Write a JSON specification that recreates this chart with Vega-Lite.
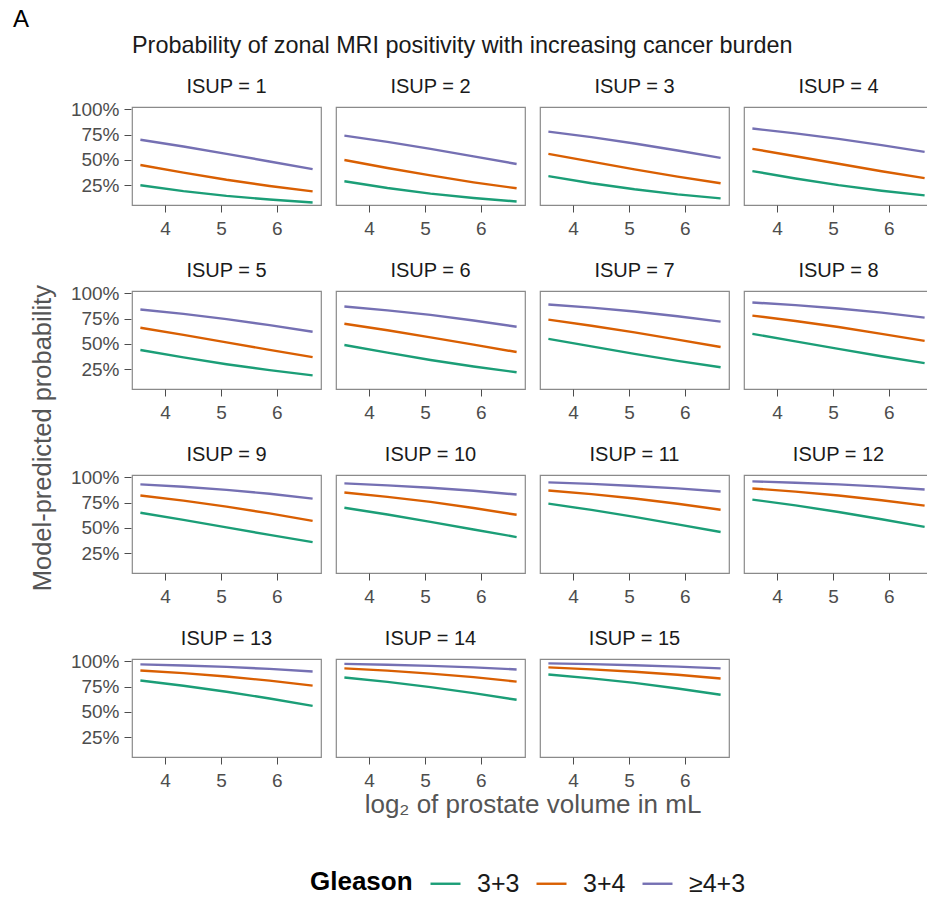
{
"$schema": "https://vega.github.io/schema/vega-lite/v6.json",
"padding": {"left": 12, "top": 8, "right": 0, "bottom": 0},
"background": "white",
"config": {
  "font": "Liberation Sans",
  "view": {"stroke": "#8a8a8a", "strokeWidth": 1.2},
  "axis": {"grid": false, "domain": false, "tickColor": "#4d4d4d", "tickSize": 7, "labelColor": "#4d4d4d", "labelFontSize": 19},
  "axisX": {"labelPadding": 7},
  "axisY": {"labelPadding": 5},
  "concat": {"spacing": 0}
},
"title": {"text": "A", "anchor": "start", "frame": "bounds", "dx": -18, "fontSize": 24, "fontWeight": "normal", "color": "#000", "offset": 2},
"data": {"values": [
{"i":1,"g":"3+3","x":3.56,"p":0.25},{"i":1,"g":"3+3","x":4.33,"p":0.192},{"i":1,"g":"3+3","x":5.10,"p":0.145},{"i":1,"g":"3+3","x":5.87,"p":0.109},{"i":1,"g":"3+3","x":6.64,"p":0.08},
{"i":1,"g":"3+4","x":3.56,"p":0.45},{"i":1,"g":"3+4","x":4.33,"p":0.375},{"i":1,"g":"3+4","x":5.10,"p":0.304},{"i":1,"g":"3+4","x":5.87,"p":0.243},{"i":1,"g":"3+4","x":6.64,"p":0.19},
{"i":1,"g":"≥4+3","x":3.56,"p":0.70},{"i":1,"g":"≥4+3","x":4.33,"p":0.633},{"i":1,"g":"≥4+3","x":5.10,"p":0.560},{"i":1,"g":"≥4+3","x":5.87,"p":0.485},{"i":1,"g":"≥4+3","x":6.64,"p":0.41},
{"i":2,"g":"3+3","x":3.56,"p":0.29},{"i":2,"g":"3+3","x":4.33,"p":0.223},{"i":2,"g":"3+3","x":5.10,"p":0.167},{"i":2,"g":"3+3","x":5.87,"p":0.124},{"i":2,"g":"3+3","x":6.64,"p":0.09},
{"i":2,"g":"3+4","x":3.56,"p":0.50},{"i":2,"g":"3+4","x":4.33,"p":0.421},{"i":2,"g":"3+4","x":5.10,"p":0.347},{"i":2,"g":"3+4","x":5.87,"p":0.279},{"i":2,"g":"3+4","x":6.64,"p":0.22},
{"i":2,"g":"≥4+3","x":3.56,"p":0.74},{"i":2,"g":"≥4+3","x":4.33,"p":0.678},{"i":2,"g":"≥4+3","x":5.10,"p":0.609},{"i":2,"g":"≥4+3","x":5.87,"p":0.535},{"i":2,"g":"≥4+3","x":6.64,"p":0.46},
{"i":3,"g":"3+3","x":3.56,"p":0.34},{"i":3,"g":"3+3","x":4.33,"p":0.27},{"i":3,"g":"3+3","x":5.10,"p":0.210},{"i":3,"g":"3+3","x":5.87,"p":0.160},{"i":3,"g":"3+3","x":6.64,"p":0.12},
{"i":3,"g":"3+4","x":3.56,"p":0.56},{"i":3,"g":"3+4","x":4.33,"p":0.483},{"i":3,"g":"3+4","x":5.10,"p":0.407},{"i":3,"g":"3+4","x":5.87,"p":0.335},{"i":3,"g":"3+4","x":6.64,"p":0.27},
{"i":3,"g":"≥4+3","x":3.56,"p":0.78},{"i":3,"g":"≥4+3","x":4.33,"p":0.725},{"i":3,"g":"≥4+3","x":5.10,"p":0.662},{"i":3,"g":"≥4+3","x":5.87,"p":0.593},{"i":3,"g":"≥4+3","x":6.64,"p":0.52},
{"i":4,"g":"3+3","x":3.56,"p":0.39},{"i":4,"g":"3+3","x":4.33,"p":0.317},{"i":4,"g":"3+3","x":5.10,"p":0.251},{"i":4,"g":"3+3","x":5.87,"p":0.196},{"i":4,"g":"3+3","x":6.64,"p":0.15},
{"i":4,"g":"3+4","x":3.56,"p":0.61},{"i":4,"g":"3+4","x":4.33,"p":0.537},{"i":4,"g":"3+4","x":5.10,"p":0.462},{"i":4,"g":"3+4","x":5.87,"p":0.388},{"i":4,"g":"3+4","x":6.64,"p":0.32},
{"i":4,"g":"≥4+3","x":3.56,"p":0.81},{"i":4,"g":"≥4+3","x":4.33,"p":0.763},{"i":4,"g":"≥4+3","x":5.10,"p":0.708},{"i":4,"g":"≥4+3","x":5.87,"p":0.647},{"i":4,"g":"≥4+3","x":6.64,"p":0.58},
{"i":5,"g":"3+3","x":3.56,"p":0.44},{"i":5,"g":"3+3","x":4.33,"p":0.367},{"i":5,"g":"3+3","x":5.10,"p":0.300},{"i":5,"g":"3+3","x":5.87,"p":0.241},{"i":5,"g":"3+3","x":6.64,"p":0.19},
{"i":5,"g":"3+4","x":3.56,"p":0.66},{"i":5,"g":"3+4","x":4.33,"p":0.590},{"i":5,"g":"3+4","x":5.10,"p":0.516},{"i":5,"g":"3+4","x":5.87,"p":0.442},{"i":5,"g":"3+4","x":6.64,"p":0.37},
{"i":5,"g":"≥4+3","x":3.56,"p":0.84},{"i":5,"g":"≥4+3","x":4.33,"p":0.797},{"i":5,"g":"≥4+3","x":5.10,"p":0.745},{"i":5,"g":"≥4+3","x":5.87,"p":0.686},{"i":5,"g":"≥4+3","x":6.64,"p":0.62},
{"i":6,"g":"3+3","x":3.56,"p":0.49},{"i":6,"g":"3+3","x":4.33,"p":0.414},{"i":6,"g":"3+3","x":5.10,"p":0.342},{"i":6,"g":"3+3","x":5.87,"p":0.277},{"i":6,"g":"3+3","x":6.64,"p":0.22},
{"i":6,"g":"3+4","x":3.56,"p":0.70},{"i":6,"g":"3+4","x":4.33,"p":0.635},{"i":6,"g":"3+4","x":5.10,"p":0.565},{"i":6,"g":"3+4","x":5.87,"p":0.493},{"i":6,"g":"3+4","x":6.64,"p":0.42},
{"i":6,"g":"≥4+3","x":3.56,"p":0.87},{"i":6,"g":"≥4+3","x":4.33,"p":0.832},{"i":6,"g":"≥4+3","x":5.10,"p":0.787},{"i":6,"g":"≥4+3","x":5.87,"p":0.732},{"i":6,"g":"≥4+3","x":6.64,"p":0.67},
{"i":7,"g":"3+3","x":3.56,"p":0.55},{"i":7,"g":"3+3","x":4.33,"p":0.476},{"i":7,"g":"3+3","x":5.10,"p":0.402},{"i":7,"g":"3+3","x":5.87,"p":0.333},{"i":7,"g":"3+3","x":6.64,"p":0.27},
{"i":7,"g":"3+4","x":3.56,"p":0.74},{"i":7,"g":"3+4","x":4.33,"p":0.680},{"i":7,"g":"3+4","x":5.10,"p":0.614},{"i":7,"g":"3+4","x":5.87,"p":0.543},{"i":7,"g":"3+4","x":6.64,"p":0.47},
{"i":7,"g":"≥4+3","x":3.56,"p":0.89},{"i":7,"g":"≥4+3","x":4.33,"p":0.859},{"i":7,"g":"≥4+3","x":5.10,"p":0.820},{"i":7,"g":"≥4+3","x":5.87,"p":0.774},{"i":7,"g":"≥4+3","x":6.64,"p":0.72},
{"i":8,"g":"3+3","x":3.56,"p":0.60},{"i":8,"g":"3+3","x":4.33,"p":0.526},{"i":8,"g":"3+3","x":5.10,"p":0.451},{"i":8,"g":"3+3","x":5.87,"p":0.378},{"i":8,"g":"3+3","x":6.64,"p":0.31},
{"i":8,"g":"3+4","x":3.56,"p":0.78},{"i":8,"g":"3+4","x":4.33,"p":0.727},{"i":8,"g":"3+4","x":5.10,"p":0.667},{"i":8,"g":"3+4","x":5.87,"p":0.600},{"i":8,"g":"3+4","x":6.64,"p":0.53},
{"i":8,"g":"≥4+3","x":3.56,"p":0.91},{"i":8,"g":"≥4+3","x":4.33,"p":0.883},{"i":8,"g":"≥4+3","x":5.10,"p":0.850},{"i":8,"g":"≥4+3","x":5.87,"p":0.809},{"i":8,"g":"≥4+3","x":6.64,"p":0.76},
{"i":9,"g":"3+3","x":3.56,"p":0.65},{"i":9,"g":"3+3","x":4.33,"p":0.580},{"i":9,"g":"3+3","x":5.10,"p":0.506},{"i":9,"g":"3+3","x":5.87,"p":0.431},{"i":9,"g":"3+3","x":6.64,"p":0.36},
{"i":9,"g":"3+4","x":3.56,"p":0.82},{"i":9,"g":"3+4","x":4.33,"p":0.770},{"i":9,"g":"3+4","x":5.10,"p":0.711},{"i":9,"g":"3+4","x":5.87,"p":0.644},{"i":9,"g":"3+4","x":6.64,"p":0.57},
{"i":9,"g":"≥4+3","x":3.56,"p":0.93},{"i":9,"g":"≥4+3","x":4.33,"p":0.907},{"i":9,"g":"≥4+3","x":5.10,"p":0.876},{"i":9,"g":"≥4+3","x":5.87,"p":0.838},{"i":9,"g":"≥4+3","x":6.64,"p":0.79},
{"i":10,"g":"3+3","x":3.56,"p":0.70},{"i":10,"g":"3+3","x":4.33,"p":0.633},{"i":10,"g":"3+3","x":5.10,"p":0.560},{"i":10,"g":"3+3","x":5.87,"p":0.485},{"i":10,"g":"3+3","x":6.64,"p":0.41},
{"i":10,"g":"3+4","x":3.56,"p":0.85},{"i":10,"g":"3+4","x":4.33,"p":0.807},{"i":10,"g":"3+4","x":5.10,"p":0.757},{"i":10,"g":"3+4","x":5.87,"p":0.697},{"i":10,"g":"3+4","x":6.64,"p":0.63},
{"i":10,"g":"≥4+3","x":3.56,"p":0.94},{"i":10,"g":"≥4+3","x":4.33,"p":0.921},{"i":10,"g":"≥4+3","x":5.10,"p":0.897},{"i":10,"g":"≥4+3","x":5.87,"p":0.867},{"i":10,"g":"≥4+3","x":6.64,"p":0.83},
{"i":11,"g":"3+3","x":3.56,"p":0.74},{"i":11,"g":"3+3","x":4.33,"p":0.678},{"i":11,"g":"3+3","x":5.10,"p":0.609},{"i":11,"g":"3+3","x":5.87,"p":0.535},{"i":11,"g":"3+3","x":6.64,"p":0.46},
{"i":11,"g":"3+4","x":3.56,"p":0.87},{"i":11,"g":"3+4","x":4.33,"p":0.834},{"i":11,"g":"3+4","x":5.10,"p":0.791},{"i":11,"g":"3+4","x":5.87,"p":0.739},{"i":11,"g":"3+4","x":6.64,"p":0.68},
{"i":11,"g":"≥4+3","x":3.56,"p":0.95},{"i":11,"g":"≥4+3","x":4.33,"p":0.935},{"i":11,"g":"≥4+3","x":5.10,"p":0.915},{"i":11,"g":"≥4+3","x":5.87,"p":0.891},{"i":11,"g":"≥4+3","x":6.64,"p":0.86},
{"i":12,"g":"3+3","x":3.56,"p":0.78},{"i":12,"g":"3+3","x":4.33,"p":0.723},{"i":12,"g":"3+3","x":5.10,"p":0.658},{"i":12,"g":"3+3","x":5.87,"p":0.586},{"i":12,"g":"3+3","x":6.64,"p":0.51},
{"i":12,"g":"3+4","x":3.56,"p":0.89},{"i":12,"g":"3+4","x":4.33,"p":0.859},{"i":12,"g":"3+4","x":5.10,"p":0.820},{"i":12,"g":"3+4","x":5.87,"p":0.774},{"i":12,"g":"3+4","x":6.64,"p":0.72},
{"i":12,"g":"≥4+3","x":3.56,"p":0.96},{"i":12,"g":"≥4+3","x":4.33,"p":0.947},{"i":12,"g":"≥4+3","x":5.10,"p":0.930},{"i":12,"g":"≥4+3","x":5.87,"p":0.908},{"i":12,"g":"≥4+3","x":6.64,"p":0.88},
{"i":13,"g":"3+3","x":3.56,"p":0.81},{"i":13,"g":"3+3","x":4.33,"p":0.759},{"i":13,"g":"3+3","x":5.10,"p":0.700},{"i":13,"g":"3+3","x":5.87,"p":0.633},{"i":13,"g":"3+3","x":6.64,"p":0.56},
{"i":13,"g":"3+4","x":3.56,"p":0.91},{"i":13,"g":"3+4","x":4.33,"p":0.883},{"i":13,"g":"3+4","x":5.10,"p":0.850},{"i":13,"g":"3+4","x":5.87,"p":0.809},{"i":13,"g":"3+4","x":6.64,"p":0.76},
{"i":13,"g":"≥4+3","x":3.56,"p":0.97},{"i":13,"g":"≥4+3","x":4.33,"p":0.959},{"i":13,"g":"≥4+3","x":5.10,"p":0.945},{"i":13,"g":"≥4+3","x":5.87,"p":0.925},{"i":13,"g":"≥4+3","x":6.64,"p":0.90},
{"i":14,"g":"3+3","x":3.56,"p":0.84},{"i":14,"g":"3+3","x":4.33,"p":0.797},{"i":14,"g":"3+3","x":5.10,"p":0.745},{"i":14,"g":"3+3","x":5.87,"p":0.686},{"i":14,"g":"3+3","x":6.64,"p":0.62},
{"i":14,"g":"3+4","x":3.56,"p":0.93},{"i":14,"g":"3+4","x":4.33,"p":0.908},{"i":14,"g":"3+4","x":5.10,"p":0.879},{"i":14,"g":"3+4","x":5.87,"p":0.844},{"i":14,"g":"3+4","x":6.64,"p":0.80},
{"i":14,"g":"≥4+3","x":3.56,"p":0.975},{"i":14,"g":"≥4+3","x":4.33,"p":0.966},{"i":14,"g":"≥4+3","x":5.10,"p":0.955},{"i":14,"g":"≥4+3","x":5.87,"p":0.940},{"i":14,"g":"≥4+3","x":6.64,"p":0.92},
{"i":15,"g":"3+3","x":3.56,"p":0.87},{"i":15,"g":"3+3","x":4.33,"p":0.832},{"i":15,"g":"3+3","x":5.10,"p":0.787},{"i":15,"g":"3+3","x":5.87,"p":0.732},{"i":15,"g":"3+3","x":6.64,"p":0.67},
{"i":15,"g":"3+4","x":3.56,"p":0.94},{"i":15,"g":"3+4","x":4.33,"p":0.921},{"i":15,"g":"3+4","x":5.10,"p":0.897},{"i":15,"g":"3+4","x":5.87,"p":0.867},{"i":15,"g":"3+4","x":6.64,"p":0.83},
{"i":15,"g":"≥4+3","x":3.56,"p":0.98},{"i":15,"g":"≥4+3","x":4.33,"p":0.972},{"i":15,"g":"≥4+3","x":5.10,"p":0.962},{"i":15,"g":"≥4+3","x":5.87,"p":0.948},{"i":15,"g":"≥4+3","x":6.64,"p":0.93}
]},
"vconcat": [{
  "title": {"text": "Probability of zonal MRI positivity with increasing cancer burden", "anchor": "start", "frame": "group", "fontSize": 23.4, "fontWeight": "normal", "color": "#1a1a1a", "offset": 18},
  "vconcat": [{
    "title": {"text": "Model-predicted probability", "orient": "left", "anchor": "middle", "dx": 9, "fontSize": 25.5, "fontWeight": "normal", "color": "#555555", "offset": 14},
    "facet": {"field": "i", "type": "ordinal", "title": "log₂ of prostate volume in mL",
      "header": {"labelExpr": "'ISUP = ' + datum.value", "labelFontSize": 20, "labelColor": "#1a1a1a", "labelPadding": 10, "titleOrient": "bottom", "titleFontSize": 26, "titleFontWeight": "normal", "titleColor": "#555555", "titlePadding": 1}},
    "columns": 4,
    "spacing": {"column": 13, "row": 20},
    "spec": {
      "width": 189, "height": 98,
      "mark": {"type": "line", "strokeWidth": 2.4},
      "encoding": {
        "x": {"field": "x", "type": "quantitative", "scale": {"domain": [3.41, 6.79], "nice": false, "zero": false}, "axis": {"values": [4, 5, 6], "title": null}},
        "y": {"field": "p", "type": "quantitative", "scale": {"domain": [0.055, 1.023], "nice": false, "zero": false}, "axis": {"values": [0.25, 0.5, 0.75, 1], "format": ".0%", "title": null}},
        "color": {"field": "g", "type": "nominal", "scale": {"domain": ["3+3", "3+4", "≥4+3"], "range": ["#1b9e77", "#d95f02", "#7570b3"]},
          "legend": {"orient": "none", "legendX": 178, "legendY": 760, "direction": "horizontal", "padding": 0, "title": "Gleason", "titleOrient": "left", "titleFontSize": 26, "titleFontWeight": "bold", "titleColor": "#000000", "labelFontSize": 25, "labelColor": "#1a1a1a", "symbolType": "stroke", "symbolSize": 900, "symbolStrokeWidth": 2.4, "columnPadding": 11, "labelOffset": 15, "titlePadding": 16}}
      }
    },
    "resolve": {"axis": {"x": "independent"}}
  }]
}]
}
